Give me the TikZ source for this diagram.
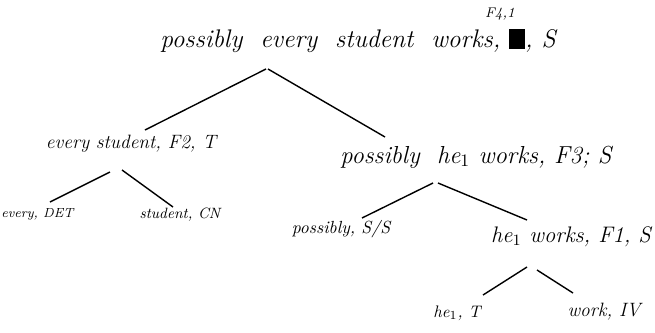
\documentclass[tikz,border=0pt]{standalone}
\usetikzlibrary{positioning,calc}

\begin{document}
\begin{tikzpicture}[
  x=0.02cm, y=-0.02cm,
  word/.style={inner sep=0pt, anchor=base, font=\itshape\fontsize{#1}{#1}\selectfont},
  word/.default=10,
  branch/.style={draw, line width=0.8pt},
]
  \useasboundingbox (0,0) rectangle (655,332);

  % labels of the analysis tree
  \node[word=14.5] (root) at (358,47) {possibly\ \ every\ \ student\ \ works, \rule[-1pt]{9pt}{11pt}, S};
  \node[word=8] (f41) at (500,17) {F4,1};
  \node[word=11] (evst) at (131,148) {every student, F2, T};
  \node[word=14] (phw) at (476,163) {possibly\ \ he$_1$ works, F3; S};
  \node[word=7.5, anchor=base west] (every) at (1,217) {every, DET};
  \node[word=8.5] (student) at (180,218) {student, CN};
  \node[word=10] (poss) at (341,233) {possibly, S/S};
  \node[word=12.8] (hew) at (571,242) {he$_1$ works, F1, S};
  \node[word=9.5] (he) at (457,317) {he$_1$, T};
  \node[word=11] (work) at (604,316) {work, IV};

  % branches
  \draw[branch] ($(root.base)+(-92,22)$) -- ($(evst.base)+(14,-18)$);
  \draw[branch] ($(root.base)+(-90,22)$) -- ($(phw.base)+(-91,-26)$);
  \draw[branch] ($(evst.base)+(-21,24)$) -- ($(every.base west)+(49,-15)$);
  \draw[branch] ($(evst.base)+(-9,22)$) -- ($(student.base)+(-7,-11)$);
  \draw[branch] ($(phw.base)+(-43,20)$) -- ($(poss.base)+(21,-15)$);
  \draw[branch] ($(phw.base)+(-38,20)$) -- ($(hew.base)+(-44,-22)$);
  \draw[branch] ($(hew.base)+(-44,25)$) -- ($(he.base)+(26,-22)$);
  \draw[branch] ($(hew.base)+(-34,28)$) -- ($(work.base)+(-31,-23)$);
\end{tikzpicture}
\end{document}
